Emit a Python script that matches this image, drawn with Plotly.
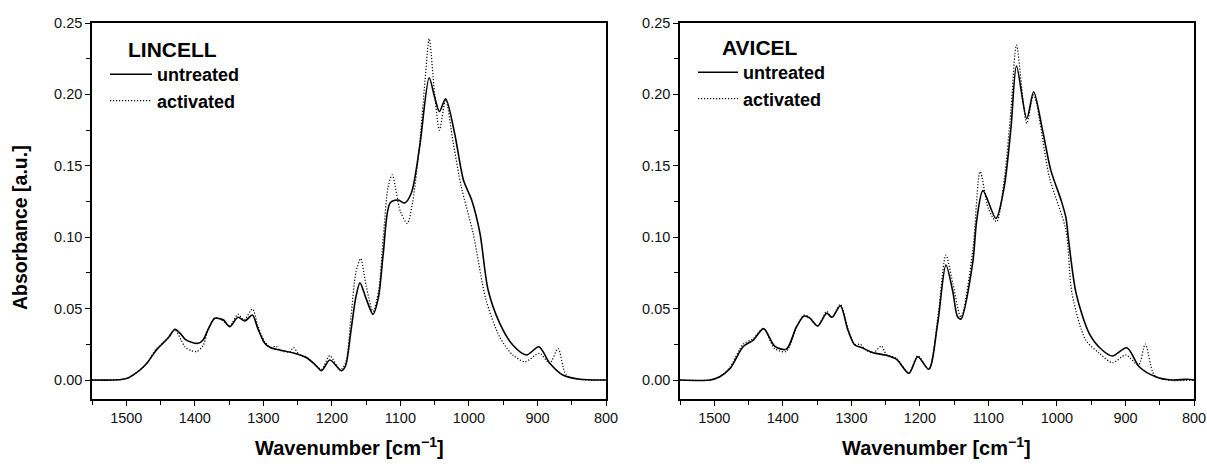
import plotly.graph_objects as go

# ---------------- data ----------------
lin_u_wn = [1550, 1520, 1505, 1495, 1490, 1480, 1470, 1456, 1446, 1438, 1429, 1420, 1414, 1405, 1395,
            1388, 1380, 1371, 1364, 1358, 1349, 1337, 1327, 1316, 1308, 1298, 1290, 1276, 1256, 1237,
            1225, 1215, 1203, 1186, 1180, 1172, 1165, 1159, 1150, 1140, 1132, 1125, 1115, 1103, 1094,
            1084, 1072, 1058, 1050, 1043, 1034, 1021, 1008, 996, 984, 972, 955, 936, 916, 898, 882,
            863, 838, 800]
lin_u_ab = [0.0, 0.0, 0.0005, 0.002, 0.0035, 0.007, 0.0117, 0.021, 0.026, 0.030, 0.0355, 0.032, 0.0285,
            0.0265, 0.0257, 0.028, 0.036, 0.0432, 0.043, 0.042, 0.0373, 0.0439, 0.0413, 0.0455, 0.036,
            0.0257, 0.0227, 0.021, 0.0189, 0.0156, 0.011, 0.0065, 0.014, 0.0065, 0.010, 0.035, 0.058,
            0.068, 0.057, 0.046, 0.058, 0.0887, 0.124, 0.126, 0.124, 0.131, 0.163, 0.2117, 0.198, 0.188,
            0.197, 0.173, 0.140, 0.126, 0.103, 0.063, 0.0397, 0.0245, 0.0175, 0.0233, 0.0117, 0.0035,
            0.0005, 0.0]

lin_a_wn = [1550, 1520, 1505, 1495, 1490, 1480, 1470, 1456, 1446, 1438, 1429, 1420, 1414, 1405, 1397,
            1388, 1380, 1371, 1364, 1358, 1349, 1337, 1328, 1316, 1308, 1298, 1290, 1281, 1276, 1262,
            1256, 1248, 1237, 1225, 1215, 1203, 1188, 1180, 1172, 1165, 1158, 1150, 1140, 1132, 1125,
            1118, 1112, 1100, 1090, 1082, 1072, 1064, 1058, 1050, 1043, 1034, 1023, 1011, 994, 975,
            955, 936, 918, 897, 882, 870, 858, 840, 800]
lin_a_ab = [0.0, 0.0, 0.0005, 0.002, 0.0035, 0.007, 0.0117, 0.022, 0.026, 0.030, 0.035, 0.028, 0.023,
            0.0205, 0.020, 0.024, 0.036, 0.0432, 0.043, 0.041, 0.038, 0.046, 0.042, 0.0497, 0.038, 0.027,
            0.023, 0.0235, 0.021, 0.0195, 0.0227, 0.018, 0.016, 0.011, 0.0075, 0.017, 0.007, 0.012,
            0.045, 0.075, 0.085, 0.066, 0.048, 0.062, 0.100, 0.135, 0.1436, 0.118, 0.1097, 0.125, 0.165,
            0.21, 0.239, 0.20, 0.175, 0.196, 0.166, 0.135, 0.103, 0.056, 0.030, 0.0175, 0.0128, 0.0187,
            0.0117, 0.022, 0.0035, 0.0005, 0.0]

avi_u_wn = [1550, 1506, 1492, 1477, 1458, 1443, 1428, 1412, 1395, 1380, 1369, 1361, 1349, 1336, 1328,
            1316, 1305, 1295, 1285, 1268, 1249, 1234, 1216, 1203, 1187, 1174, 1162, 1152, 1145, 1140,
            1123, 1117, 1108, 1089, 1077, 1067, 1059, 1044, 1034, 1021, 1009, 994, 987, 983, 972, 953,
            934, 919, 898, 880, 856, 832, 810, 800]
avi_u_ab = [0.0, 0.0, 0.0023, 0.008, 0.0233, 0.028, 0.036, 0.0238, 0.0215, 0.0373, 0.0448, 0.0435,
            0.0378, 0.0467, 0.0439, 0.052, 0.035, 0.0245, 0.0227, 0.0191, 0.0173, 0.0145, 0.0047, 0.0163,
            0.0075, 0.0397, 0.0805, 0.062, 0.0443, 0.0427, 0.0817, 0.112, 0.1326, 0.1132, 0.135, 0.177,
            0.2199, 0.183, 0.2019, 0.175, 0.147, 0.126, 0.114, 0.098, 0.0607, 0.0327, 0.021, 0.0168,
            0.0226, 0.0093, 0.0023, 0.0, 0.0005, 0.0]

avi_a_wn = [1550, 1506, 1492, 1477, 1458, 1443, 1428, 1412, 1395, 1380, 1369, 1361, 1349, 1336, 1328,
            1316, 1305, 1295, 1287, 1279, 1268, 1256, 1249, 1234, 1216, 1203, 1187, 1174, 1162, 1152,
            1140, 1123, 1112, 1100, 1088, 1077, 1067, 1059, 1044, 1034, 1011, 987, 978, 958, 938, 919,
            899.5, 881, 871, 858, 840, 800]
avi_a_ab = [0.0, 0.0, 0.0023, 0.009, 0.025, 0.029, 0.036, 0.022, 0.020, 0.037, 0.0455, 0.044, 0.038,
            0.048, 0.044, 0.053, 0.036, 0.025, 0.025, 0.021, 0.019, 0.0238, 0.018, 0.015, 0.005, 0.017,
            0.0075, 0.043, 0.0875, 0.068, 0.044, 0.09, 0.1459, 0.12, 0.1109, 0.14, 0.19, 0.2346, 0.1797,
            0.1996, 0.142, 0.105, 0.0607, 0.028, 0.0187, 0.0121, 0.0175, 0.0105, 0.0252, 0.0035, 0.0,
            0.0]

panel_titles = ["LINCELL", "AVICEL"]
series_names = ["untreated", "activated"]
x_title = "Wavenumber [cm<sup>−1</sup>]"
y_title = "Absorbance [a.u.]"
x_ticks = [1500, 1400, 1300, 1200, 1100, 1000, 900, 800]
y_ticks = [0.00, 0.05, 0.10, 0.15, 0.20, 0.25]

# ---------------- figure ----------------
W, H = 1207, 466
FONT = "Liberation Sans, Arial, sans-serif"

def px_x(p):
    return p / W

def px_y(p):
    return 1 - p / H

fig = go.Figure()

solid = dict(color="black", width=1.6, shape="spline", smoothing=0.8)
dotted = dict(color="black", width=1.2, dash="1.2px,1.8px", shape="spline", smoothing=0.8)

fig.add_trace(go.Scatter(x=lin_u_wn, y=lin_u_ab, mode="lines", line=solid,
                         name="<b>%s</b>" % series_names[0], xaxis="x", yaxis="y", legend="legend"))
fig.add_trace(go.Scatter(x=lin_a_wn, y=lin_a_ab, mode="lines", line=dotted,
                         name="<b>%s</b>" % series_names[1], xaxis="x", yaxis="y", legend="legend"))
fig.add_trace(go.Scatter(x=avi_u_wn, y=avi_u_ab, mode="lines", line=solid,
                         name="<b>%s</b>" % series_names[0], xaxis="x2", yaxis="y2", legend="legend2"))
fig.add_trace(go.Scatter(x=avi_a_wn, y=avi_a_ab, mode="lines", line=dotted,
                         name="<b>%s</b>" % series_names[1], xaxis="x2", yaxis="y2", legend="legend2"))

ydom = [px_y(399), px_y(23)]
TICKFONT = dict(family=FONT, size=14.5, color="#111")

def xaxis(dom, anchor):
    return dict(domain=dom, anchor=anchor, range=[1550, 800], tickvals=x_ticks, automargin=False,
                ticklabeloverflow="allow",
                showgrid=False, zeroline=False, showline=True, linecolor="black", linewidth=1.5,
                mirror=True, ticks="outside", ticklen=5, tickwidth=1.3, tickcolor="black",
                minor=dict(dtick=50, ticks="outside", ticklen=4, tickwidth=1.2, tickcolor="black",
                           tick0=800, showgrid=False),
                tickfont=TICKFONT)

def yaxis(anchor):
    return dict(domain=ydom, anchor=anchor, range=[-0.0133, 0.25], tickvals=y_ticks, tickformat=".2f",
                automargin=False, ticklabeloverflow="allow",
                showgrid=False, zeroline=False, showline=True, linecolor="black", linewidth=1.5,
                mirror=True, ticks="outside", ticklen=5, tickwidth=1.3, tickcolor="black",
                minor=dict(dtick=0.025, tick0=0, ticks="outside", ticklen=4, tickwidth=1.2,
                           tickcolor="black", showgrid=False),
                tickfont=TICKFONT)

legend_common = dict(bgcolor="rgba(0,0,0,0)", font=dict(family=FONT, size=18, color="black"),
                     tracegroupgap=0, xanchor="left", yanchor="top")

def ann(text, x, y, size, angle=0, xanchor="center"):
    return dict(text="<b>%s</b>" % text, x=px_x(x), y=px_y(y), xref="paper", yref="paper",
                xanchor=xanchor, yanchor="middle", showarrow=False, textangle=angle,
                font=dict(family=FONT, size=size, color="black"))

fig.update_layout(
    width=W, height=H,
    margin=dict(l=0, r=0, t=0, b=0, autoexpand=False),
    paper_bgcolor="white", plot_bgcolor="white",
    xaxis=xaxis([px_x(92), px_x(606)], "y"),
    yaxis=yaxis("x"),
    xaxis2=xaxis([px_x(680), px_x(1194)], "y2"),
    yaxis2=yaxis("x2"),
    legend=dict(x=px_x(105), y=px_y(56), itemwidth=42, **legend_common),
    legend2=dict(x=px_x(693), y=px_y(54), itemwidth=40, **legend_common),
    showlegend=True,
    annotations=[
        ann(panel_titles[0], 126, 49, 21, xanchor="left"),
        ann(panel_titles[1], 720, 47, 21, xanchor="left"),
        ann(x_title, 349, 446, 20),
        ann(x_title, 937, 446, 20),
        ann(y_title, 20, 228, 19.5, angle=-90),
    ],
)

fig.write_html("out.html", config={"displayModeBar": False},
               post_script="document.body.style.margin='0';document.body.style.overflow='hidden';")
